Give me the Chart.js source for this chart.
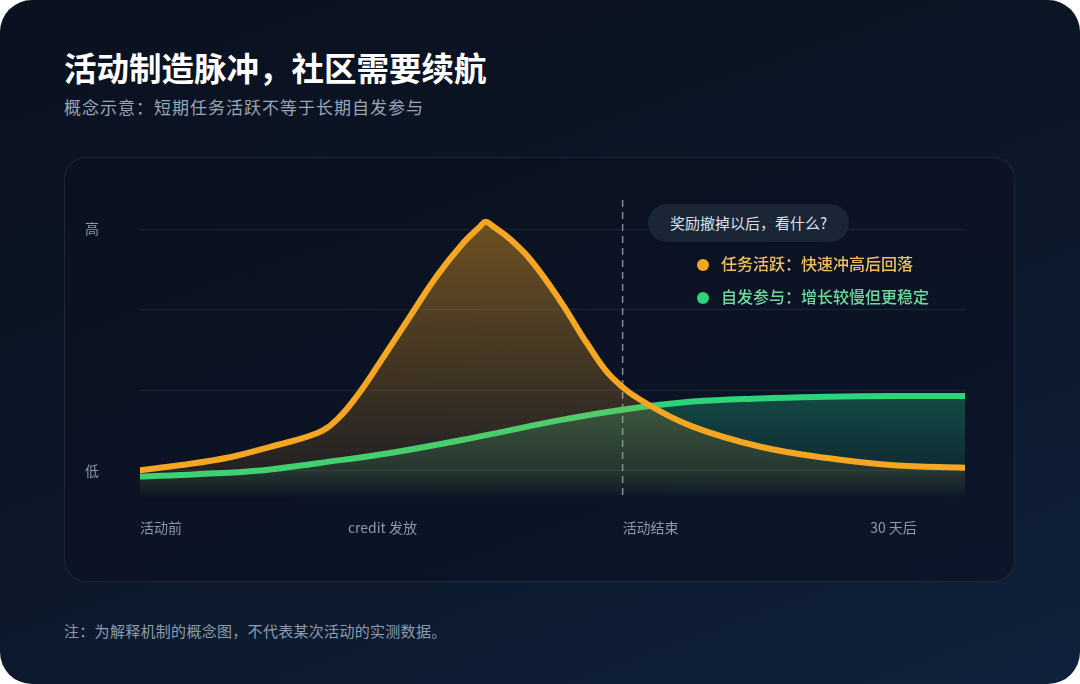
<!DOCTYPE html>
<html lang="zh-CN">
<head>
<meta charset="utf-8">
<script src="https://cdn.jsdelivr.net/npm/chart.js@4"></script>
<style>
    html, body { margin: 0; padding: 0; background: #ffffff; }
    body { width: 1080px; height: 684px; overflow: hidden; font-family: "PingFang SC", "Noto Sans CJK SC", "Noto Sans", sans-serif; }
    .card {
        position: absolute; left: 0; top: 0; width: 1080px; height: 684px;
        border-radius: 32px; overflow: hidden;
        background: linear-gradient(160deg, #0a111f 0%, #0c1626 45%, #0f213b 100%);
    }
    .title { position: absolute; left: 64px; top: 48px; font-size: 32.5px; line-height: 38px; font-weight: 700; color: #ffffff; }
    .subtitle { position: absolute; left: 64px; top: 95px; font-size: 17px; line-height: 24px; color: #9aa5b6; letter-spacing: 1px; }
    .panel {
        position: absolute; left: 64px; top: 157px; width: 951px; height: 425px; box-sizing: border-box;
        border: 1px solid rgba(148, 163, 184, 0.14); border-radius: 22px;
        background: rgba(11, 17, 32, 0.55);
    }
    .plot { position: absolute; left: 64px; top: 157px; width: 951px; height: 425px; }
    .bubble {
        position: absolute; left: 648px; top: 204px; height: 38px; padding: 0 22px;
        border-radius: 19px; background: #1a2535; color: #d9e0ea; font-size: 15px; line-height: 38px;
    }
    .legend { position: absolute; left: 697px; font-size: 16px; line-height: 22px; font-weight: 500; }
    .legend .dot { display: inline-block; width: 12px; height: 12px; border-radius: 50%; margin-right: 12px; vertical-align: -1px; }
    .note { position: absolute; left: 64px; top: 620px; font-size: 15px; line-height: 22px; color: #8e9aae; letter-spacing: 0.3px; }
</style>
</head>
<body>
<div class="card">
    <div class="title">活动制造脉冲，社区需要续航</div>
    <div class="subtitle">概念示意：短期任务活跃不等于长期自发参与</div>
    <div class="panel"></div>
    <div class="plot"><canvas id="pulse"></canvas></div>
    <div class="bubble">奖励撤掉以后，看什么?</div>
    <div class="legend" style="top:252px;color:#f1bf60"><span class="dot" style="background:#f5a623"></span>任务活跃：快速冲高后回落</div>
    <div class="legend" style="top:285px;color:#6ddb9c"><span class="dot" style="background:#2ed47a"></span>自发参与：增长较慢但更稳定</div>
    <div class="note">注：为解释机制的概念图，不代表某次活动的实测数据。</div>
</div>
<script>
(function() {
    // timeline runs 0..100 (活动前 -> 30 天后), level runs 低 (0) .. 高 (3)
    var xTicks = [0, 25.2, 58.5, 88.5];
    var xTickLabels = ['活动前', 'credit 发放', '活动结束', '30 天后'];
    var yTicks = [0, 1, 2, 3];
    var yTickLabels = ['低', '', '', '高'];
    var activityEnd = 58.5;

    var taskX = [0, 4.8, 10.9, 15.8, 21.5, 23.9, 26.3, 29.1, 32.5, 36.0, 39.2, 41.2, 41.9, 42.7, 44.8, 47.5, 51.0, 54.2, 57.3, 61.5, 67, 75.2, 83.3, 91.3, 100];
    var taskY = [0.01, 0.07, 0.17, 0.30, 0.47, 0.64, 0.93, 1.35, 1.88, 2.42, 2.83, 3.03, 3.09, 3.04, 2.88, 2.60, 2.10, 1.58, 1.15, 0.83, 0.55, 0.30, 0.16, 0.07, 0.04];

    var organicX = [0, 6.9, 15.0, 21.8, 30.7, 40.8, 50.9, 58.5, 67, 75.2, 83.3, 91.3, 100];
    var organicY = [-0.07, -0.04, 0.01, 0.10, 0.23, 0.42, 0.63, 0.76, 0.86, 0.90, 0.92, 0.93, 0.93];

    var fontFamily = '"PingFang SC", "Noto Sans CJK SC", "Noto Sans", sans-serif';

    function toPoints(xs, ys) {
        return xs.map(function(x, i) { return { x: x, y: ys[i] }; });
    }

    function taskFill(context) {
        var area = context.chart.chartArea;
        if (!area) return 'rgba(245,166,35,0.3)';
        var g = context.chart.ctx.createLinearGradient(0, area.top, 0, area.bottom);
        g.addColorStop(0, 'rgba(245,166,35,0.45)');
        g.addColorStop(0.9, 'rgba(245,166,35,0.10)');
        g.addColorStop(1, 'rgba(245,166,35,0)');
        return g;
    }

    function organicFill(context) {
        var area = context.chart.chartArea;
        if (!area) return 'rgba(40,200,140,0.25)';
        var g = context.chart.ctx.createLinearGradient(0, area.top, 0, area.bottom);
        g.addColorStop(0.62, 'rgba(40,200,140,0.32)');
        g.addColorStop(0.9, 'rgba(40,200,140,0.12)');
        g.addColorStop(1, 'rgba(40,200,140,0)');
        return g;
    }

    var endLine = {
        id: 'endLine',
        beforeDatasetsDraw: function(chart) {
            var ctx = chart.ctx;
            var x = chart.scales.x.getPixelForValue(activityEnd);
            ctx.save();
            ctx.strokeStyle = '#7d8aa0';
            ctx.lineWidth = 1.5;
            ctx.setLineDash([7, 5]);
            ctx.beginPath();
            ctx.moveTo(x, chart.chartArea.top);
            ctx.lineTo(x, chart.chartArea.bottom - 2);
            ctx.stroke();
            ctx.restore();
        }
    };

    new Chart(document.getElementById('pulse').getContext('2d'), {
        type: 'line',
        data: {
            datasets: [{
                label: '任务活跃',
                data: toPoints(taskX, taskY),
                borderColor: '#f5a623',
                borderWidth: 6,
                backgroundColor: taskFill,
                fill: 'start',
                tension: 0.4,
                borderCapStyle: 'round',
                borderJoinStyle: 'round',
                pointRadius: 0
            }, {
                label: '自发参与',
                data: toPoints(organicX, organicY),
                borderColor: '#2ed47a',
                borderWidth: 6,
                backgroundColor: organicFill,
                fill: 'start',
                tension: 0.4,
                borderCapStyle: 'round',
                borderJoinStyle: 'round',
                pointRadius: 0
            }]
        },
        options: {
            responsive: true,
            maintainAspectRatio: false,
            animation: false,
            layout: { padding: { left: 21, right: 50, top: 43, bottom: 0 } },
            plugins: { legend: { display: false }, tooltip: { enabled: false } },
            scales: {
                x: {
                    type: 'linear',
                    min: 0,
                    max: 100,
                    afterBuildTicks: function(scale) { scale.ticks = xTicks.map(function(v) { return { value: v }; }); },
                    afterFit: function(scale) { scale.height = 82; },
                    grid: { display: false, drawTicks: false },
                    border: { display: false },
                    ticks: {
                        align: 'start',
                        padding: 19,
                        autoSkip: false,
                        maxRotation: 0,
                        color: '#8c98ab',
                        font: { family: fontFamily, size: 14 },
                        callback: function(v, i) { return xTickLabels[i]; }
                    }
                },
                y: {
                    min: -0.36,
                    max: 3.36,
                    afterBuildTicks: function(scale) { scale.ticks = yTicks.map(function(v) { return { value: v }; }); },
                    afterFit: function(scale) { scale.width = 55; },
                    grid: { color: 'rgba(148,163,184,0.13)', lineWidth: 1, drawTicks: false },
                    border: { display: false },
                    ticks: {
                        crossAlign: 'far',
                        padding: 0,
                        color: '#8c98ab',
                        font: { family: fontFamily, size: 14 },
                        callback: function(v, i) { return yTickLabels[i]; }
                    }
                }
            }
        },
        plugins: [endLine]
    });
})();
</script>
</body>
</html>
